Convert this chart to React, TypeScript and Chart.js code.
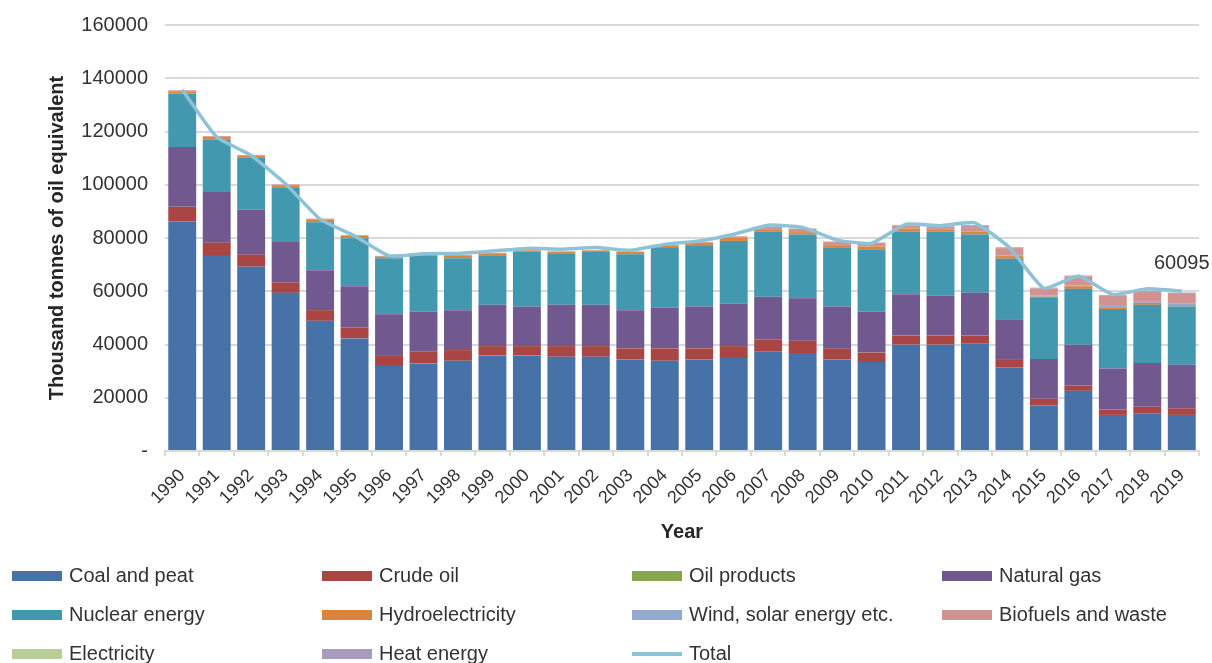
import React, { useEffect, useRef } from "react";
import { Chart, registerables } from "chart.js";
Chart.register(...registerables);

const years = ["1990","1991","1992","1993","1994","1995","1996","1997","1998","1999","2000","2001","2002","2003","2004","2005","2006","2007","2008","2009","2010","2011","2012","2013","2014","2015","2016","2017","2018","2019"];

const coalAndPeat = [86200,73250,69230,59400,48900,42300,31900,32900,33900,35900,35900,35400,35400,34400,33900,34400,34900,37450,36800,34400,33400,39950,39950,40450,31500,17100,22600,13550,14050,13550];
const crudeOil = [5500,5000,4500,3900,4000,4100,4100,4500,4000,3500,3500,4000,4000,4150,4650,4150,4500,4500,4650,4050,3550,3400,3400,2900,3000,2500,2000,2000,2550,2500];
const oilProducts = [0,0,0,0,0,0,0,0,0,0,0,0,0,0,0,0,0,0,0,0,0,0,0,0,0,0,0,0,0,0];
const naturalGas = [22500,19000,17000,15500,15000,15500,15400,15000,15000,15500,14900,15500,15500,14350,15350,15700,16000,15950,15950,15850,15450,15550,15100,16050,14950,14950,15350,15450,16450,16350];
const nuclearEnergy = [20000,19600,19400,20000,18000,18000,21000,20850,19500,18350,20600,19400,19900,21000,22350,23000,23500,24400,23900,22000,23400,23400,23850,21900,22750,22900,20950,22350,21850,21900];
const hydroelectricity = [900,1100,800,1000,1100,900,700,800,1100,1000,500,500,500,850,1000,1000,1250,1000,900,1000,1000,1250,1000,1000,1000,500,1000,650,750,500];
const windSolar = [0,0,0,0,0,0,0,0,0,0,0,0,0,0,0,0,0,0,0,0,0,0,100,300,300,400,300,500,650,500];
const biofuelsWaste = [400,300,300,300,300,300,200,200,200,200,200,200,200,200,200,300,500,850,1350,1350,1500,1250,1000,1500,2700,2700,3400,3800,3500,3700];
const electricity = [0,0,0,0,0,0,0,0,0,0,0,0,0,0,0,0,0,0,0,0,0,0,0,0,0,0,0,0,0,0];
const heatEnergy = [0,0,0,0,0,0,0,0,0,0,0,0,0,0,0,0,0,0,0,0,0,0,0,700,300,300,300,300,300,500];
const totals = [135700,117900,111000,100300,87100,80800,73300,74100,74200,75100,76100,75800,76400,75400,77600,78900,81400,84800,84000,79200,78000,85200,84600,85700,76400,61100,65700,58800,60900,60095];

const yTickValues = [0,20000,40000,60000,80000,100000,120000,140000,160000];

const barSeries = [
  { name: "Coal and peat", data: coalAndPeat, color: "#4672a7" },
  { name: "Crude oil", data: crudeOil, color: "#a94543" },
  { name: "Oil products", data: oilProducts, color: "#89a54e" },
  { name: "Natural gas", data: naturalGas, color: "#71588f" },
  { name: "Nuclear energy", data: nuclearEnergy, color: "#4198af" },
  { name: "Hydroelectricity", data: hydroelectricity, color: "#db843d" },
  { name: "Wind, solar energy etc.", data: windSolar, color: "#93a9cf" },
  { name: "Biofuels and waste", data: biofuelsWaste, color: "#d19392" },
  { name: "Electricity", data: electricity, color: "#b9cd96" },
  { name: "Heat energy", data: heatEnergy, color: "#a99bbd" },
];
const totalName = "Total";
const totalColor = "#8ec2d6";

const FONT = "'Liberation Sans', Arial, sans-serif";
const TEXT = "#333333";

export default function App() {
  const ref = useRef<HTMLCanvasElement>(null);
  useEffect(() => {
    if (!ref.current) return;
    const customPlugin = {
      id: "customDraw",
      afterDraw(chart: any) {
        const ctx = chart.ctx;
        ctx.save();
        const items = [
          ...barSeries.map((s) => ({ name: s.name, color: s.color, line: false })),
          { name: totalName, color: totalColor, line: true },
        ];
        const colX = [12, 322, 632, 942];
        const rowY = [576, 615, 654];
        ctx.font = `20px ${FONT}`;
        ctx.textBaseline = "middle";
        ctx.textAlign = "left";
        items.forEach((it, i) => {
          const x = colX[i % 4];
          const y = rowY[Math.floor(i / 4)];
          if (it.line) {
            ctx.strokeStyle = it.color;
            ctx.lineWidth = 4;
            ctx.beginPath();
            ctx.moveTo(x, y);
            ctx.lineTo(x + 50, y);
            ctx.stroke();
          } else {
            ctx.fillStyle = it.color;
            ctx.fillRect(x, y - 5, 50, 10);
          }
          ctx.fillStyle = TEXT;
          ctx.fillText(it.name, x + 57, y);
        });
        const meta = chart.getDatasetMeta(barSeries.length);
        const pt = meta.data[meta.data.length - 1];
        if (pt) {
          ctx.font = `20px ${FONT}`;
          ctx.textAlign = "center";
          ctx.fillStyle = TEXT;
          ctx.fillText(String(totals[totals.length - 1]), pt.x + 0, pt.y - 28);
        }
        ctx.restore();
      },
    };

    const chart = new Chart(ref.current, {
      type: "bar",
      data: {
        labels: years,
        datasets: [
          ...barSeries.map((s) => ({
            type: "bar" as const,
            label: s.name,
            data: s.data,
            backgroundColor: s.color,
            stack: "energy",
            order: 1,
            barPercentage: 0.81,
            categoryPercentage: 1,
          })),
          {
            type: "line" as const,
            label: totalName,
            data: totals,
            borderColor: totalColor,
            backgroundColor: totalColor,
            borderWidth: 3.5,
            pointRadius: 0,
            tension: 0.15,
            stack: "total",
            order: 0,
          },
        ],
      } as any,
      options: {
        responsive: false,
        animation: false,
        layout: { padding: { left: 0, right: 13, top: 25, bottom: 118 } },
        plugins: { legend: { display: false }, tooltip: { enabled: false } },
        scales: {
          x: {
            stacked: true,
            grid: { drawOnChartArea: false, drawTicks: true, tickLength: 5, color: "#d9d9d9", lineWidth: 2, offset: true },
            border: { display: true, color: "#d9d9d9", width: 2 },
            ticks: { autoSkip: false, maxRotation: 45, minRotation: 45, color: TEXT, font: { family: FONT, size: 18 }, padding: 9, labelOffset: 0 },
            title: { display: true, text: "Year", color: "#262626", font: { family: FONT, size: 20, weight: "bold" }, padding: { top: 0, bottom: 1 } },
            afterFit(scale: any) { scale.height = 94; },
          },
          y: {
            stacked: true,
            min: 0,
            max: 160000,
            afterBuildTicks(scale: any) { scale.ticks = yTickValues.map((v) => ({ value: v })); },
            grid: { color: "#d9d9d9", lineWidth: 2, drawTicks: false },
            border: { display: false },
            ticks: {
              color: TEXT,
              font: { family: FONT, size: 20 },
              padding: 17,
              callback: (v: any) => (Number(v) === 0 ? "-" : String(v)),
            },
            title: { display: true, text: "Thousand tonnes of oil equivalent", color: "#262626", font: { family: FONT, size: 20, weight: "bold" }, padding: { top: 45, bottom: 0 } },
            afterFit(scale: any) { scale.width = 165; scale.paddingTop = 0; scale.paddingBottom = 0; },
          },
        },
      } as any,
      plugins: [customPlugin],
    });
    return () => chart.destroy();
  }, []);
  return (
    <div style={{ position: "fixed", left: 0, top: 0, width: 1212, height: 663, background: "#fff" }}>
      <canvas ref={ref} width={1212} height={663} style={{ width: 1212, height: 663, display: "block" }} />
    </div>
  );
}
